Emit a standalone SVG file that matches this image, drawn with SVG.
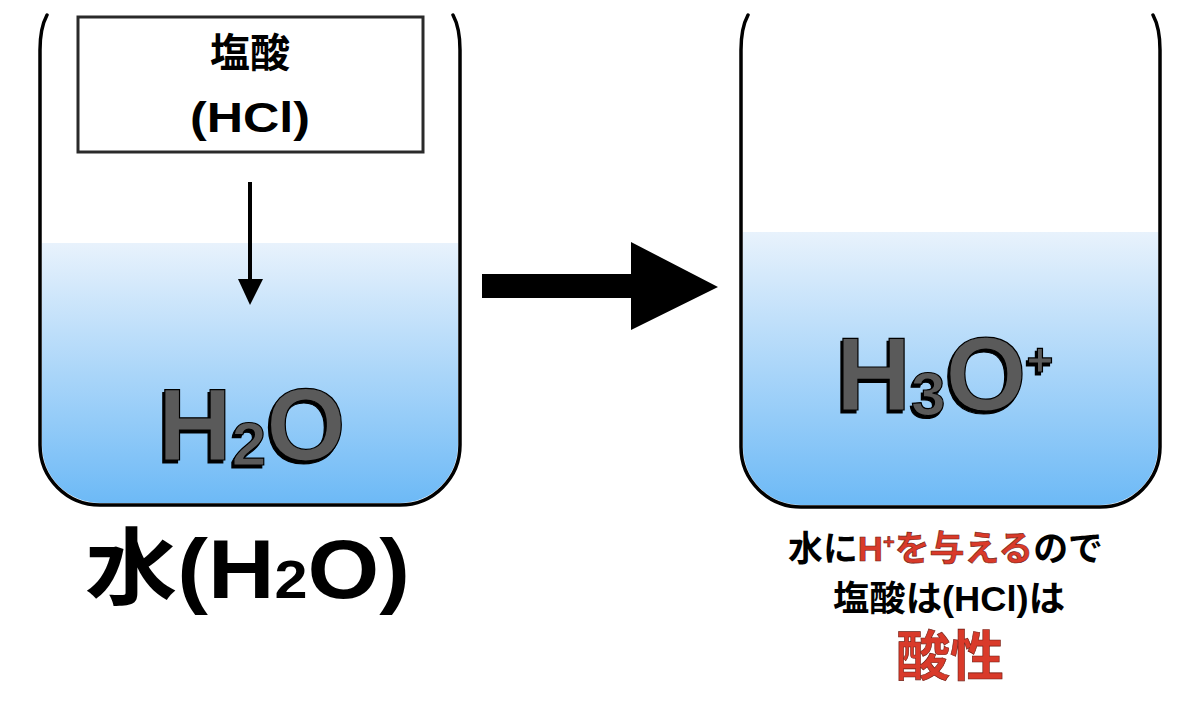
<svg xmlns="http://www.w3.org/2000/svg" width="1200" height="717" viewBox="0 0 1200 717">
<defs>
<linearGradient id="waterL" x1="0" y1="243" x2="0" y2="505" gradientUnits="userSpaceOnUse">
<stop offset="0" stop-color="#e8f2fc"/>
<stop offset="1" stop-color="#6cb9f6"/>
</linearGradient>
<linearGradient id="waterR" x1="0" y1="232" x2="0" y2="507" gradientUnits="userSpaceOnUse">
<stop offset="0" stop-color="#e8f2fc"/>
<stop offset="1" stop-color="#6cb9f6"/>
</linearGradient>
<filter id="shadow" x="-10%" y="-10%" width="120%" height="120%">
<feOffset in="SourceAlpha" dx="-2.5" dy="2.5" result="off"/>
<feFlood flood-color="#000"/>
<feComposite in2="off" operator="in" result="sh"/>
<feMerge><feMergeNode in="sh"/><feMergeNode in="SourceGraphic"/></feMerge>
</filter>
</defs>
<style>
.wall{fill:none;stroke:#000;stroke-width:3.5;stroke-linecap:round;stroke-linejoin:round}
.jp{font-family:"Liberation Sans","Noto Sans CJK JP",sans-serif;font-weight:bold}
.mol{font-family:"Liberation Sans","Noto Sans CJK JP",sans-serif;font-weight:bold;fill:#5a5a5a;stroke:#000;stroke-width:1.2;filter:url(#shadow)}
.red{fill:#d93a2a;stroke:#6a1a10;stroke-width:0.6}
</style>
<rect width="1200" height="717" fill="#fff"/>

<g id="beaker-left">
<path d="M42 243 L458 243 L458 445 A58 58 0 0 1 400 503 L100 503 A58 58 0 0 1 42 445 Z" fill="url(#waterL)"/>
<path class="wall" d="M47 15 Q40 28 40 50 L40 445 A60 60 0 0 0 100 505 L400 505 A60 60 0 0 0 460 445 L460 50 Q460 28 453 15"/>
<text class="mol" x="158" y="460" font-size="102">H<tspan font-size="62" dy="5">2</tspan><tspan dy="-5">O</tspan></text>
</g>

<g id="hcl-box">
<rect x="78" y="17" width="345" height="135" fill="#fff" stroke="#2a2a2a" stroke-width="3"/>
<text class="jp" x="250" y="67" font-size="40" text-anchor="middle">塩酸</text>
<text class="jp" x="190" y="132" font-size="42" textLength="120" lengthAdjust="spacingAndGlyphs">(HCl)</text>
</g>

<g id="beaker-right">
<path d="M743 232 L1158 232 L1158 447 A58 58 0 0 1 1100 505 L801 505 A58 58 0 0 1 743 447 Z" fill="url(#waterR)"/>
<path class="wall" d="M748 15 Q741 28 741 50 L741 447 A60 60 0 0 0 801 507 L1100 507 A60 60 0 0 0 1160 447 L1160 50 Q1160 28 1153 15"/>
<text class="mol" x="836" y="410" font-size="104">H<tspan font-size="62" dy="5">3</tspan><tspan dy="-5">O</tspan><tspan font-size="46" dy="-34">+</tspan></text>
</g>

<g id="label-water">
<text class="jp" x="85" y="598" font-size="84" textLength="325" lengthAdjust="spacingAndGlyphs">水(H<tspan font-size="54">2</tspan>O)</text>
</g>

<g id="label-acid">
<text class="jp" x="788" y="561" font-size="35" textLength="315" lengthAdjust="spacingAndGlyphs">水に<tspan class="red">H<tspan font-size="20" dy="-12">+</tspan><tspan dy="12">を与える</tspan></tspan>ので</text>
<text class="jp" x="833" y="611" font-size="35" textLength="232" lengthAdjust="spacingAndGlyphs">塩酸は(HCl)は</text>
<text class="jp red" x="950" y="676" font-size="54" text-anchor="middle">酸性</text>
</g>

<g id="connectors">
<line x1="250" y1="182" x2="250" y2="282" stroke="#000" stroke-width="4"/>
<polygon points="238,279 263,279 250,305" fill="#000"/>
<polygon points="482,274 631,274 631,242 718,287 631,330 631,298 482,298" fill="#000"/>
</g>
</svg>
